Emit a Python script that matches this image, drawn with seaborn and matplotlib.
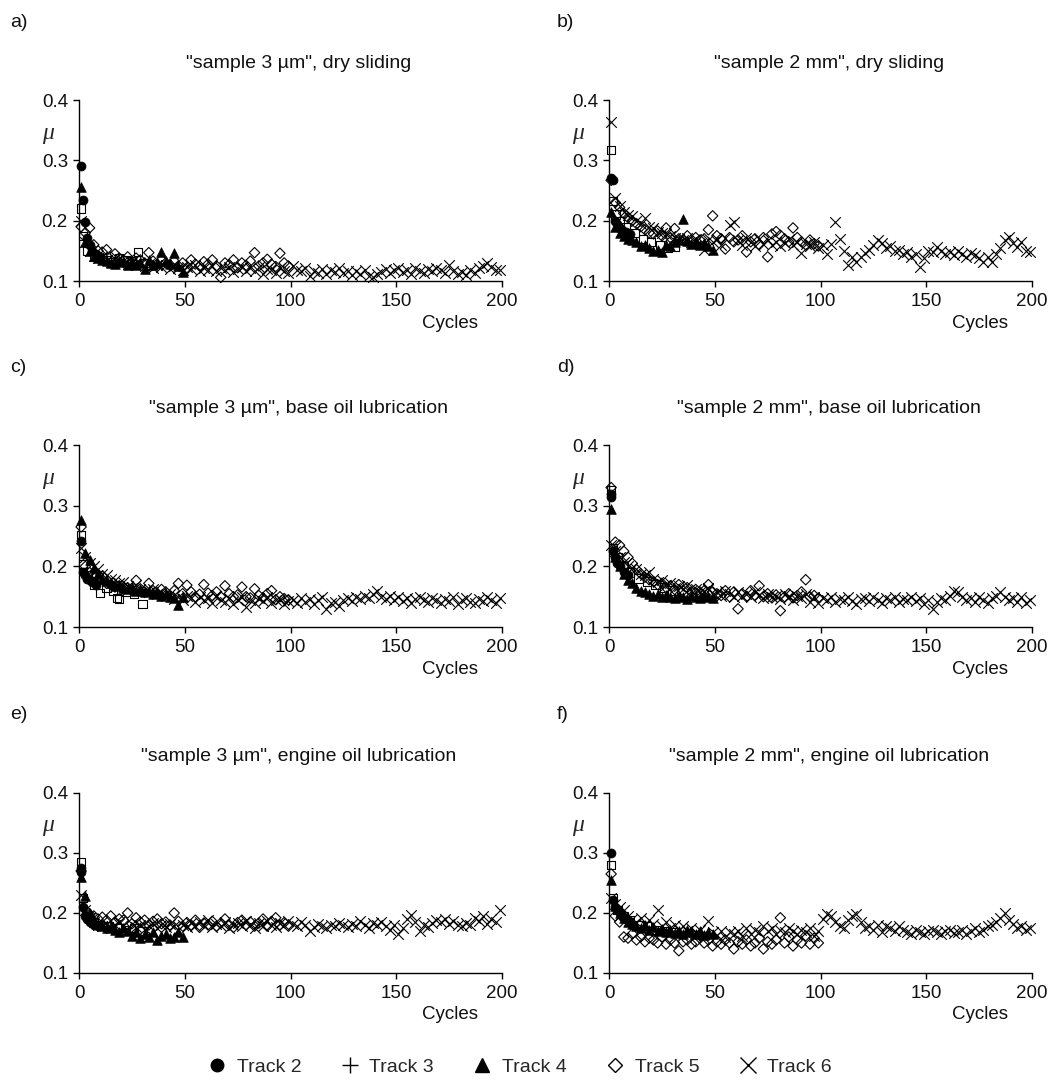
import matplotlib
matplotlib.use("Agg")
import matplotlib.pyplot as plt
import matplotlib.transforms as mtransforms
from matplotlib.lines import Line2D
import seaborn as sns

# cycle positions of the sampled points
t6_x = list(range(1, 200, 2))
t5_x = list(range(1, 100, 2))
t4_x = list(range(1, 50, 2))

# ---- a) sample 3 um, dry sliding
a_t2_x = [1, 2, 3, 4, 5, 6, 8, 10]
a_t2 = [0.290, 0.235, 0.198, 0.172, 0.160, 0.150, 0.145, 0.140]
a_t3_x = [1, 2, 4, 7, 10, 13, 16, 19, 22, 25, 28, 31]
a_t3 = [0.220, 0.175, 0.150, 0.140, 0.138, 0.135, 0.132, 0.138, 0.135, 0.133, 0.148, 0.130]
a_t4 = [0.255, 0.165, 0.150, 0.142, 0.138, 0.135, 0.133, 0.130, 0.128, 0.133,
        0.131, 0.127, 0.132, 0.126, 0.130, 0.120, 0.135, 0.126, 0.130, 0.148,
        0.133, 0.128, 0.147, 0.125, 0.115]
a_t5 = [0.190, 0.180, 0.188, 0.160, 0.150, 0.148, 0.152, 0.140, 0.145, 0.138,
        0.135, 0.140, 0.132, 0.138, 0.135, 0.130, 0.147, 0.133, 0.128, 0.135,
        0.130, 0.127, 0.133, 0.125, 0.130, 0.122, 0.135, 0.128, 0.125, 0.132,
        0.128, 0.135, 0.125, 0.106, 0.130, 0.127, 0.135, 0.122, 0.130, 0.126,
        0.133, 0.147, 0.125, 0.130, 0.136, 0.128, 0.124, 0.146, 0.130, 0.125]
a_t6 = [0.200, 0.165, 0.150, 0.142, 0.138, 0.140, 0.135, 0.132, 0.136, 0.130,
        0.133, 0.128, 0.131, 0.126, 0.130, 0.125, 0.128, 0.122, 0.127, 0.124,
        0.126, 0.120, 0.125, 0.122, 0.118, 0.124, 0.120, 0.126, 0.117, 0.122,
        0.119, 0.125, 0.116, 0.121, 0.118, 0.124, 0.115, 0.120, 0.123, 0.117,
        0.121, 0.116, 0.124, 0.112, 0.120, 0.118, 0.114, 0.122, 0.117, 0.113,
        0.125, 0.118, 0.116, 0.121, 0.108, 0.117, 0.114, 0.120, 0.112, 0.118,
        0.115, 0.122, 0.113, 0.117, 0.110, 0.116, 0.112, 0.119, 0.109, 0.106,
        0.111, 0.115, 0.120, 0.113, 0.118, 0.122, 0.115, 0.119, 0.112, 0.121,
        0.117, 0.114, 0.120, 0.116, 0.122, 0.118, 0.113, 0.127, 0.117, 0.112,
        0.115, 0.110, 0.118, 0.114, 0.121, 0.125, 0.130, 0.124, 0.119, 0.118]

# ---- b) sample 2 mm, dry sliding
b_t2_x = [1, 2, 3, 4, 5, 6, 8, 10]
b_t2 = [0.270, 0.268, 0.200, 0.195, 0.188, 0.185, 0.182, 0.178]
b_t3_x = [1, 2, 3, 5, 8, 12, 16, 20, 24, 28, 31]
b_t3 = [0.317, 0.233, 0.210, 0.200, 0.190, 0.180, 0.170, 0.165, 0.160, 0.155, 0.157]
b_t4 = [0.215, 0.190, 0.180, 0.175, 0.170, 0.168, 0.165, 0.158, 0.160, 0.155,
        0.150, 0.152, 0.148, 0.160, 0.158, 0.165, 0.168, 0.203, 0.166, 0.162,
        0.165, 0.160, 0.163, 0.158, 0.152]
b_t5 = [0.267, 0.230, 0.222, 0.212, 0.205, 0.200, 0.195, 0.190, 0.185, 0.180,
        0.178, 0.183, 0.175, 0.188, 0.172, 0.187, 0.170, 0.168, 0.175, 0.165,
        0.172, 0.168, 0.170, 0.185, 0.208, 0.175, 0.170, 0.153, 0.172, 0.165,
        0.168, 0.175, 0.148, 0.165, 0.170, 0.160, 0.172, 0.140, 0.178, 0.182,
        0.176, 0.170, 0.165, 0.188, 0.172, 0.165, 0.160, 0.168, 0.162, 0.158]
b_t6 = [0.363, 0.238, 0.225, 0.215, 0.210, 0.207, 0.200, 0.195, 0.205, 0.190,
        0.188, 0.182, 0.180, 0.178, 0.175, 0.172, 0.170, 0.168, 0.172, 0.165,
        0.170, 0.162, 0.152, 0.168, 0.165, 0.170, 0.160, 0.172, 0.193, 0.197,
        0.168, 0.160, 0.172, 0.165, 0.158, 0.170, 0.162, 0.168, 0.160, 0.165,
        0.158, 0.163, 0.170, 0.160, 0.165, 0.147, 0.162, 0.158, 0.165, 0.155,
        0.160, 0.145, 0.162, 0.197, 0.170, 0.150, 0.127, 0.140, 0.132, 0.140,
        0.147, 0.152, 0.160, 0.168, 0.163, 0.155, 0.158, 0.150, 0.152, 0.145,
        0.148, 0.140, 0.145, 0.124, 0.138, 0.150, 0.148, 0.157, 0.150, 0.145,
        0.148, 0.143, 0.150, 0.145, 0.140, 0.147, 0.143, 0.138, 0.132, 0.140,
        0.132, 0.145, 0.155, 0.168, 0.173, 0.163, 0.156, 0.165, 0.150, 0.148]

# ---- c) sample 3 um, base oil
c_t2_x = [1, 2, 3, 4, 5, 6, 8]
c_t2 = [0.242, 0.190, 0.185, 0.180, 0.178, 0.175, 0.170]
c_t3_x = [1, 2, 4, 7, 10, 13, 16, 18, 19, 22, 26, 30]
c_t3 = [0.252, 0.204, 0.185, 0.170, 0.156, 0.165, 0.160, 0.148, 0.146, 0.158, 0.155, 0.138]
c_t4 = [0.276, 0.222, 0.210, 0.198, 0.188, 0.180, 0.176, 0.172, 0.168, 0.170,
        0.165, 0.163, 0.166, 0.160, 0.162, 0.158, 0.160, 0.155, 0.158, 0.152,
        0.155, 0.150, 0.148, 0.136, 0.150]
c_t5 = [0.265, 0.200, 0.190, 0.182, 0.178, 0.184, 0.172, 0.170, 0.166, 0.168,
        0.162, 0.165, 0.160, 0.177, 0.163, 0.158, 0.172, 0.160, 0.155, 0.162,
        0.158, 0.152, 0.160, 0.172, 0.155, 0.169, 0.158, 0.150, 0.154, 0.170,
        0.156, 0.152, 0.158, 0.150, 0.168, 0.155, 0.150, 0.153, 0.166, 0.150,
        0.148, 0.163, 0.152, 0.148, 0.155, 0.160, 0.145, 0.150, 0.147, 0.145]
c_t6 = [0.230, 0.215, 0.205, 0.200, 0.195, 0.188, 0.185, 0.180, 0.178, 0.172,
        0.175, 0.168, 0.165, 0.170, 0.162, 0.160, 0.158, 0.163, 0.155, 0.158,
        0.152, 0.155, 0.146, 0.150, 0.145, 0.152, 0.148, 0.142, 0.150, 0.145,
        0.148, 0.140, 0.152, 0.145, 0.142, 0.148, 0.138, 0.145, 0.150, 0.133,
        0.145, 0.140, 0.148, 0.143, 0.150, 0.140, 0.145, 0.147, 0.138, 0.143,
        0.145, 0.140, 0.148, 0.142, 0.146, 0.138, 0.144, 0.150, 0.130, 0.140,
        0.142, 0.135, 0.145, 0.148, 0.143, 0.150, 0.146, 0.152, 0.148, 0.155,
        0.160, 0.150, 0.147, 0.152, 0.145, 0.150, 0.143, 0.148, 0.140, 0.146,
        0.150, 0.145, 0.142, 0.148, 0.145, 0.140, 0.147, 0.143, 0.150, 0.138,
        0.145, 0.148, 0.142, 0.140, 0.146, 0.143, 0.150, 0.145, 0.140, 0.148]

# ---- d) sample 2 mm, base oil
d_t2_x = [1, 1, 2, 3, 4, 5, 7, 9]
d_t2 = [0.320, 0.315, 0.225, 0.215, 0.205, 0.200, 0.190, 0.185]
d_t3_x = [1, 2, 4, 7, 10, 14, 18, 22, 26, 30]
d_t3 = [0.325, 0.230, 0.215, 0.200, 0.190, 0.180, 0.175, 0.170, 0.165, 0.160]
d_t4 = [0.295, 0.215, 0.200, 0.188, 0.178, 0.172, 0.165, 0.160, 0.158, 0.155,
        0.152, 0.155, 0.150, 0.153, 0.150, 0.148, 0.152, 0.150, 0.147, 0.152,
        0.150, 0.148, 0.153, 0.150, 0.148]
d_t5 = [0.330, 0.240, 0.235, 0.225, 0.215, 0.205, 0.195, 0.188, 0.182, 0.178,
        0.175, 0.170, 0.172, 0.165, 0.168, 0.162, 0.170, 0.160, 0.165, 0.158,
        0.162, 0.155, 0.160, 0.170, 0.158, 0.155, 0.152, 0.160, 0.150, 0.158,
        0.130, 0.155, 0.150, 0.160, 0.152, 0.168, 0.150, 0.155, 0.148, 0.153,
        0.127, 0.150, 0.155, 0.148, 0.152, 0.158, 0.178, 0.150, 0.152, 0.148]
d_t6 = [0.235, 0.225, 0.215, 0.208, 0.200, 0.198, 0.195, 0.188, 0.185, 0.190,
        0.180, 0.175, 0.178, 0.170, 0.172, 0.165, 0.168, 0.162, 0.170, 0.160,
        0.163, 0.158, 0.160, 0.165, 0.155, 0.158, 0.152, 0.160, 0.155, 0.150,
        0.157, 0.152, 0.155, 0.150, 0.158, 0.153, 0.148, 0.155, 0.150, 0.152,
        0.147, 0.155, 0.150, 0.145, 0.152, 0.148, 0.155, 0.142, 0.150, 0.140,
        0.148, 0.145, 0.150, 0.142, 0.147, 0.145, 0.150, 0.143, 0.138, 0.146,
        0.148, 0.143, 0.150, 0.145, 0.140, 0.148, 0.145, 0.150, 0.142, 0.147,
        0.145, 0.150, 0.143, 0.148, 0.138, 0.145, 0.130, 0.142, 0.148, 0.145,
        0.152, 0.160, 0.158, 0.150, 0.145, 0.148, 0.142, 0.150, 0.145, 0.140,
        0.148, 0.152, 0.158, 0.150, 0.145, 0.148, 0.142, 0.150, 0.140, 0.145]

# ---- e) sample 3 um, engine oil
e_t2_x = [1, 1, 2, 3, 4, 5, 7, 9]
e_t2 = [0.275, 0.268, 0.210, 0.195, 0.190, 0.185, 0.180, 0.178]
e_t3_x = [1, 2, 4, 7, 10, 14, 18, 22, 26, 30]
e_t3 = [0.285, 0.225, 0.195, 0.185, 0.180, 0.178, 0.175, 0.172, 0.175, 0.170]
e_t4 = [0.260, 0.228, 0.200, 0.188, 0.182, 0.178, 0.175, 0.178, 0.172, 0.168,
        0.175, 0.170, 0.162, 0.168, 0.158, 0.165, 0.160, 0.168, 0.155, 0.162,
        0.165, 0.158, 0.160, 0.168, 0.160]
e_t5 = [0.270, 0.205, 0.198, 0.195, 0.190, 0.193, 0.188, 0.195, 0.185, 0.190,
        0.188, 0.200, 0.182, 0.192, 0.185, 0.188, 0.180, 0.186, 0.190, 0.182,
        0.185, 0.180, 0.200, 0.186, 0.178, 0.184, 0.180, 0.188, 0.176, 0.183,
        0.180, 0.186, 0.178, 0.183, 0.190, 0.180, 0.176, 0.184, 0.188, 0.180,
        0.185, 0.178, 0.183, 0.190, 0.178, 0.186, 0.192, 0.180, 0.184, 0.178]
e_t6 = [0.230, 0.205, 0.192, 0.185, 0.180, 0.178, 0.182, 0.175, 0.180, 0.185,
        0.178, 0.172, 0.182, 0.176, 0.180, 0.174, 0.178, 0.183, 0.175, 0.180,
        0.176, 0.182, 0.178, 0.172, 0.180, 0.176, 0.183, 0.178, 0.185, 0.180,
        0.188, 0.176, 0.182, 0.178, 0.185, 0.175, 0.180, 0.184, 0.178, 0.186,
        0.180, 0.175, 0.183, 0.178, 0.186, 0.180, 0.176, 0.184, 0.180, 0.187,
        0.182, 0.178, 0.185, 0.180, 0.170, 0.176, 0.182, 0.178, 0.175, 0.180,
        0.178, 0.183, 0.180, 0.176, 0.182, 0.178, 0.186, 0.180, 0.175, 0.183,
        0.180, 0.185, 0.178, 0.172, 0.180, 0.165, 0.175, 0.190, 0.196, 0.185,
        0.170, 0.180, 0.176, 0.183, 0.188, 0.185, 0.190, 0.182, 0.186, 0.180,
        0.178, 0.183, 0.180, 0.192, 0.186, 0.195, 0.182, 0.190, 0.185, 0.205]

# ---- f) sample 2 mm, engine oil
f_t2_x = [1, 2, 3, 4, 5, 6, 8, 10]
f_t2 = [0.300, 0.222, 0.210, 0.205, 0.200, 0.195, 0.190, 0.185]
f_t3_x = [1, 2, 4, 7, 10, 14, 18, 22, 26, 30]
f_t3 = [0.280, 0.225, 0.205, 0.195, 0.188, 0.180, 0.178, 0.172, 0.170, 0.168]
f_t4 = [0.255, 0.212, 0.200, 0.192, 0.185, 0.182, 0.178, 0.175, 0.180, 0.172,
        0.176, 0.170, 0.174, 0.168, 0.172, 0.166, 0.170, 0.165, 0.172, 0.168,
        0.165, 0.170, 0.163, 0.168, 0.165]
f_t5 = [0.265, 0.195, 0.185, 0.160, 0.158, 0.165, 0.155, 0.160, 0.152, 0.158,
        0.155, 0.150, 0.160, 0.148, 0.155, 0.150, 0.137, 0.152, 0.155, 0.148,
        0.152, 0.158, 0.150, 0.155, 0.145, 0.152, 0.148, 0.155, 0.150, 0.140,
        0.152, 0.148, 0.155, 0.145, 0.150, 0.158, 0.140, 0.152, 0.148, 0.155,
        0.192, 0.150, 0.160, 0.145, 0.155, 0.150, 0.162, 0.148, 0.158, 0.150]
f_t6 = [0.225, 0.215, 0.210, 0.205, 0.195, 0.190, 0.185, 0.192, 0.180, 0.188,
        0.182, 0.205, 0.178, 0.185, 0.175, 0.180, 0.172, 0.178, 0.170, 0.175,
        0.168, 0.172, 0.165, 0.186, 0.168, 0.163, 0.170, 0.160, 0.168, 0.165,
        0.170, 0.162, 0.175, 0.165, 0.172, 0.168, 0.178, 0.170, 0.175, 0.165,
        0.172, 0.168, 0.175, 0.170, 0.165, 0.172, 0.168, 0.175, 0.162, 0.170,
        0.190, 0.198, 0.195, 0.185, 0.178, 0.175, 0.188, 0.195, 0.198, 0.185,
        0.175, 0.178, 0.172, 0.180, 0.168, 0.178, 0.175, 0.170, 0.178, 0.172,
        0.168, 0.165, 0.172, 0.168, 0.165, 0.170, 0.172, 0.168, 0.165, 0.170,
        0.172, 0.166, 0.168, 0.172, 0.165, 0.170, 0.175, 0.168, 0.172, 0.178,
        0.180, 0.185, 0.192, 0.200, 0.188, 0.182, 0.175, 0.178, 0.172, 0.175]

titles = ['"sample 3 \u00b5m", dry sliding', '"sample 2 mm", dry sliding',
          '"sample 3 \u00b5m", base oil lubrication', '"sample 2 mm", base oil lubrication',
          '"sample 3 \u00b5m", engine oil lubrication', '"sample 2 mm", engine oil lubrication']
letters = ['a)', 'b)', 'c)', 'd)', 'e)', 'f)']
track_names = ['Track 2', 'Track 3', 'Track 4', 'Track 5', 'Track 6']

panels = [
    (a_t2_x, a_t2, a_t3_x, a_t3, a_t4, a_t5, a_t6),
    (b_t2_x, b_t2, b_t3_x, b_t3, b_t4, b_t5, b_t6),
    (c_t2_x, c_t2, c_t3_x, c_t3, c_t4, c_t5, c_t6),
    (d_t2_x, d_t2, d_t3_x, d_t3, d_t4, d_t5, d_t6),
    (e_t2_x, e_t2, e_t3_x, e_t3, e_t4, e_t5, e_t6),
    (f_t2_x, f_t2, f_t3_x, f_t3, f_t4, f_t5, f_t6),
]

sns.set_theme(style="white")
plt.rcParams['font.family'] = ['Liberation Sans', 'DejaVu Sans']

fig = plt.figure(figsize=(10.52, 10.8), dpi=100)
fig.patch.set_facecolor('white')

lefts = [0.0751, 0.5789]
bottoms = [0.7398, 0.4194, 0.0991]
heights = [0.1676, 0.1685, 0.1667]
width = 0.4021


def draw_panel(ax, t2x, t2, t3x, t3, t4, t5, t6, title):
    sns.scatterplot(x=t2x, y=t2, ax=ax, marker='o', s=42, color='black',
                    edgecolor='black', linewidth=0.5, clip_on=False, legend=False)
    sns.scatterplot(x=t3x, y=t3, ax=ax, marker='s', s=36, color='black', facecolor='none',
                    edgecolor='black', linewidth=0.8, clip_on=False, legend=False)
    sns.scatterplot(x=t4_x, y=t4, ax=ax, marker='^', s=48, color='black',
                    edgecolor='black', linewidth=0.5, clip_on=False, legend=False)
    sns.scatterplot(x=t5_x, y=t5, ax=ax, marker='D', s=28, color='black', facecolor='none',
                    edgecolor='black', linewidth=0.8, clip_on=False, legend=False)
    sns.scatterplot(x=t6_x, y=t6, ax=ax, marker='x', s=58, color='black',
                    linewidth=0.8, clip_on=False, legend=False)

    ax.set_xlim(0, 200)
    ax.set_ylim(0.1, 0.4)
    ax.set_xticks([0, 50, 100, 150, 200])
    ax.set_yticks([0.1, 0.2, 0.3, 0.4])
    ax.set_yticklabels(['0.1', '0.2', '0.3', '0.4'])
    ax.set(xlabel=None, ylabel=None)
    sns.despine(ax=ax)
    for side in ['left', 'bottom']:
        ax.spines[side].set_color('black')
        ax.spines[side].set_linewidth(1.0)
    ax.tick_params(bottom=True, left=True, direction='out', length=4.5, width=1.0,
                   color='black', labelsize=13.5, labelcolor='#111111')
    ax.tick_params(axis='x', pad=4)
    ax.tick_params(axis='y', pad=3.5)

    trans = mtransforms.blended_transform_factory(ax.transAxes, ax.transData)
    ax.text(-0.073, 0.345, '\u03bc', transform=trans, ha='center', va='center',
            fontsize=17, fontstyle='italic', family=['Liberation Serif', 'DejaVu Serif'])
    ax.text(0.877, -0.232, 'Cycles', transform=ax.transAxes, ha='center', va='center',
            fontsize=13.5, color='#111111')
    ax.text(0.52, 1.2, title, transform=ax.transAxes, ha='center', va='center',
            fontsize=14, color='#111111')


for i, data in enumerate(panels):
    row, col = divmod(i, 2)
    ax = fig.add_axes([lefts[col], bottoms[row], width, heights[row]])
    draw_panel(ax, *data, titles[i])
    top = bottoms[row] + heights[row]
    fig.text([0.0095, 0.5295][col], top + 0.0722, letters[i], ha='left', va='center',
             fontsize=14, color='#111111')

handles = [
    Line2D([], [], linestyle='none', marker='o', markersize=9, color='black'),
    Line2D([], [], linestyle='none', marker='+', markersize=12, color='black', markeredgewidth=1.0),
    Line2D([], [], linestyle='none', marker='^', markersize=10, color='black'),
    Line2D([], [], linestyle='none', marker='D', markersize=7.5, markerfacecolor='none',
           markeredgecolor='black', markeredgewidth=1.0),
    Line2D([], [], linestyle='none', marker='x', markersize=11, color='black', markeredgewidth=1.0),
]
fig.legend(handles, track_names, loc='center', bbox_to_anchor=(0.494, 0.012), ncol=5,
           frameon=False, fontsize=14, handlelength=1.0, handletextpad=0.5, columnspacing=2.0)

fig.savefig('out.png', dpi=100, facecolor='white')
